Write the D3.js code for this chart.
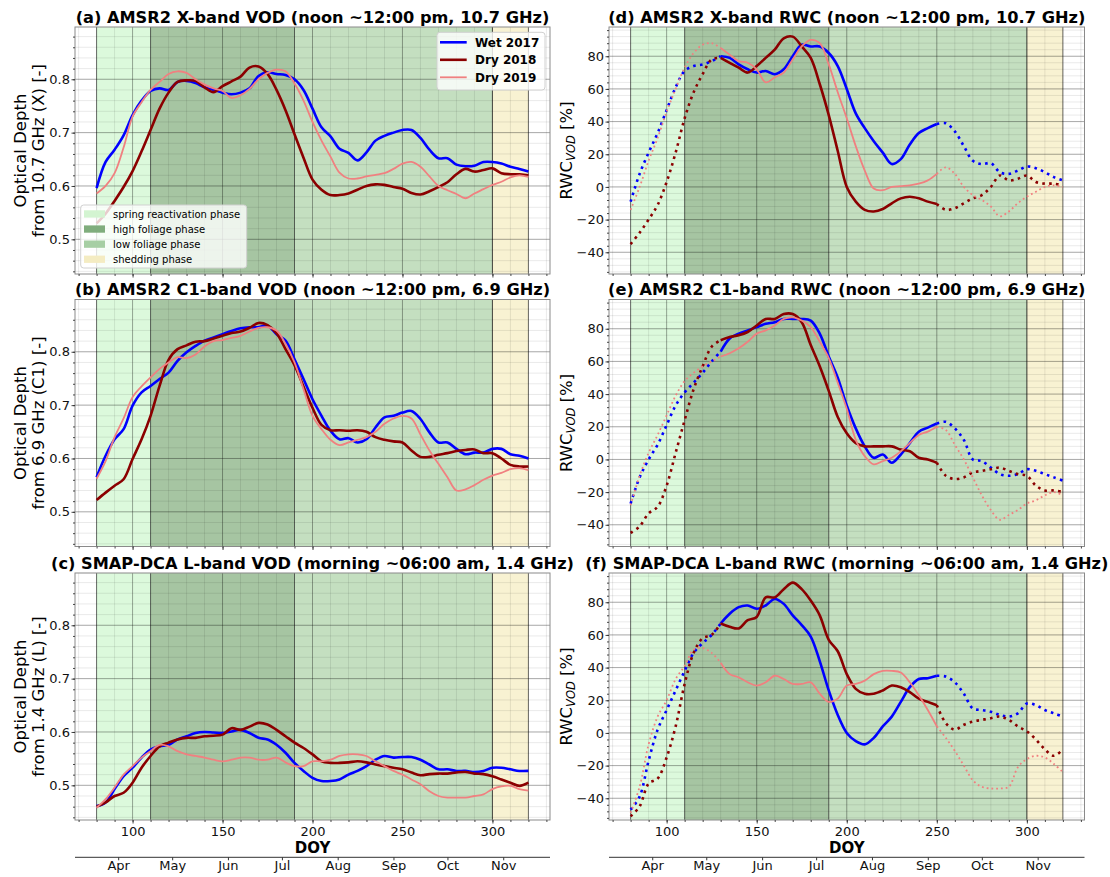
<!DOCTYPE html>
<html>
<head>
<meta charset="utf-8">
<title>VOD and RWC, 2017-2019</title>
<script src="https://cdn.jsdelivr.net/npm/d3@7/dist/d3.min.js"></script>
<style>
  body { margin: 0; background: #fff; }
  svg { display: block; font-family: 'DejaVu Sans', sans-serif; }
</style>
</head>
<body>
<svg id="fig" width="1110" height="877"></svg>
<script>
// day of year, one value every 5 days
const doy = d3.range(80, 321, 5);

// (a) AMSR2 X-band VOD [-]
const vodXWet2017 = [0.596,0.645,0.668,0.695,0.733,0.760,0.778,0.783,0.780,0.795,0.797,0.793,0.785,0.780,0.775,0.772,0.775,0.783,0.806,0.813,0.810,0.808,0.800,0.780,0.745,0.710,0.693,0.670,0.662,0.648,0.663,0.685,0.694,0.700,0.705,0.705,0.690,0.668,0.652,0.652,0.640,0.637,0.638,0.645,0.645,0.642,0.636,0.632,0.627];
const vodXDry2018 = [0.530,0.548,0.572,0.598,0.628,0.665,0.705,0.745,0.775,0.795,0.798,0.797,0.785,0.776,0.787,0.796,0.805,0.822,0.824,0.810,0.780,0.742,0.697,0.653,0.612,0.593,0.583,0.583,0.586,0.593,0.600,0.603,0.602,0.598,0.595,0.587,0.584,0.590,0.598,0.607,0.622,0.632,0.627,0.630,0.633,0.624,0.622,0.622,0.620];
const vodXDry2019 = [0.586,0.600,0.624,0.672,0.730,0.757,0.780,0.795,0.810,0.815,0.812,0.800,0.790,0.783,0.778,0.765,0.770,0.782,0.800,0.812,0.818,0.815,0.792,0.760,0.720,0.685,0.655,0.625,0.614,0.614,0.618,0.621,0.624,0.632,0.642,0.645,0.636,0.618,0.600,0.592,0.585,0.577,0.586,0.594,0.602,0.608,0.616,0.620,0.617];

// (b) AMSR2 C1-band VOD [-]
const vodCWet2017 = [0.565,0.605,0.636,0.655,0.699,0.724,0.736,0.749,0.761,0.783,0.799,0.811,0.821,0.827,0.833,0.839,0.844,0.846,0.846,0.849,0.833,0.821,0.786,0.749,0.711,0.680,0.652,0.636,0.638,0.630,0.636,0.658,0.677,0.680,0.686,0.689,0.674,0.649,0.630,0.630,0.618,0.608,0.611,0.611,0.618,0.618,0.608,0.605,0.600];
const vodCDry2018 = [0.522,0.536,0.549,0.561,0.599,0.636,0.680,0.736,0.785,0.805,0.812,0.819,0.820,0.825,0.830,0.835,0.838,0.845,0.854,0.850,0.835,0.805,0.775,0.735,0.695,0.663,0.653,0.653,0.652,0.653,0.650,0.640,0.635,0.632,0.630,0.615,0.603,0.603,0.607,0.610,0.614,0.616,0.617,0.610,0.610,0.600,0.588,0.585,0.585];
const vodCDry2019 = [0.562,0.595,0.640,0.675,0.715,0.735,0.752,0.768,0.780,0.790,0.788,0.795,0.810,0.820,0.822,0.826,0.830,0.838,0.845,0.846,0.840,0.815,0.780,0.730,0.680,0.655,0.635,0.625,0.630,0.635,0.640,0.650,0.665,0.675,0.680,0.675,0.645,0.615,0.590,0.565,0.540,0.542,0.550,0.560,0.568,0.573,0.580,0.582,0.578];

// (c) SMAP-DCA L-band VOD [-]
const vodLWet2017 = [0.461,0.468,0.493,0.517,0.533,0.552,0.567,0.573,0.576,0.586,0.592,0.598,0.600,0.599,0.598,0.601,0.604,0.598,0.589,0.586,0.576,0.561,0.542,0.527,0.514,0.508,0.508,0.511,0.520,0.527,0.536,0.548,0.555,0.552,0.553,0.553,0.548,0.539,0.530,0.530,0.527,0.527,0.525,0.527,0.533,0.533,0.530,0.527,0.527];
const vodLDry2018 = [0.460,0.468,0.480,0.486,0.505,0.533,0.555,0.573,0.580,0.586,0.589,0.589,0.592,0.593,0.595,0.607,0.604,0.610,0.617,0.614,0.604,0.592,0.580,0.570,0.558,0.545,0.542,0.542,0.543,0.545,0.543,0.539,0.536,0.533,0.530,0.524,0.519,0.521,0.522,0.522,0.524,0.525,0.522,0.521,0.517,0.511,0.505,0.499,0.505];
const vodLDry2019 = [0.458,0.474,0.496,0.520,0.536,0.552,0.564,0.576,0.573,0.564,0.558,0.555,0.552,0.548,0.545,0.548,0.552,0.552,0.548,0.548,0.552,0.543,0.536,0.536,0.545,0.545,0.548,0.555,0.558,0.558,0.555,0.545,0.536,0.527,0.520,0.511,0.502,0.489,0.480,0.477,0.477,0.477,0.480,0.483,0.493,0.498,0.499,0.493,0.490];

// (d) AMSR2 X-band RWC [%]
const rwcXWet2017 = [-9,8,21,33,47,61,71,74,75,77,80,79,75,72,70,71,69,72,80,87,86,86,82,74,60,45,36,28,21,14,17,26,33,36,38.5,39,34,25,16,14,14.5,9,8,10,12.5,11.5,9,6,4];
const rwcXDry2018 = [-35,-28,-20,-11,3,21,42,58,69,78,79,76,73,70,74,79,84,91,92,86,79,63,44,22,0,-9,-14,-15,-13.5,-10,-7,-6,-7,-9,-10.5,-14,-13,-10,-7,-5,0,7,4,5,7,3,2,2,1];
const rwcXDry2019 = [-14,0,16,30,46,60,73,82,87,88,85,81,77,76,72,64,67,70,78,86,90,88,75,58,42,25,10,-1,-2,0,0.5,1,2,4,8,12,8,0,-5,-8,-12,-18,-15,-10,-6,-3,0,1,0];

// (e) AMSR2 C1-band RWC [%]
const rwcCWet2017 = [-27,-11,0,9,21,33,41,47,53,60,66,74,77,79,81,83,84,86,86,86,85,77,63,50,33,19,8,1,3,-2,3,10,17,19.5,22,23,19,12,0,-1,-5,-9,-10,-9,-6,-7,-9,-11,-13];
const rwcCDry2018 = [-45,-41,-33,-29,-16,4,24,43,57,69,73,75,76,78,82,86,86,89,89,84,70,57,42,26,16,10,8,8,8,8,6,5,1,0,-2,-10,-12,-11,-8,-7,-6,-5,-7,-9,-10,-16,-19,-19,-20];
const rwcCDry2019 = [-28,-10,4,15,27,39,48,53,57,60,63,65,68,72,77,79,82,86,87,85,81,72,62,47,31,12,2,-3,-1,1,5,10,15,17,20,18,9,0,-11,-22,-31,-37,-34,-31,-27,-25,-22,-20,-22];

// (f) SMAP-DCA L-band RWC [%]
const rwcLWet2017 = [-47,-39,-17,2,14,26,38,49,55,60,67,73,77,78,76,78,82,79,72,66,59,44,26,11,0,-5,-7,-3,4,10,19,28,33,33.5,35,34.5,31,24,15,14,13,11,10,12,18,17,14,12,10];
const rwcLDry2018 = [-51,-45,-31,-28,-15,4,30,49,58,60,67,65,64,69,71,83,83,88,92,88,81,72,57,50,36,27,24,24,26,29,28,25,21,19,17,6,2,5,7,8,9,10,8,4,1,-4,-10,-14,-10];
const rwcLDry2019 = [-49,-33,-7,10,20,33,41,51,52,49,43,36,34,31,29,31,35,33,30,30,31,24,19,21,29,30,32,36,38,38,37,31,23,14,4,-3,-11,-20,-29,-33,-34,-34,-33,-21,-16,-14,-15,-19,-24];

const seriesNames = ['Wet 2017', 'Dry 2018', 'Dry 2019'];
const phaseNames = ['spring reactivation phase', 'high foliage phase', 'low foliage phase', 'shedding phase'];
const phaseStart = [80, 110, 190, 300];
const phaseEnd = [110, 190, 300, 320];
const monthNames = ['Apr', 'May', 'Jun', 'Jul', 'Aug', 'Sep', 'Oct', 'Nov'];
const monthDoy = [92, 122, 153, 183, 214, 245, 275, 306];
const doyTicks = [100, 150, 200, 250, 300];
const vodTicks = [0.5, 0.6, 0.7, 0.8];
const rwcTicks = [-40, -20, 0, 20, 40, 60, 80];
// RWC is drawn solid only inside this window, dotted outside
const rwcSolidFrom = 130;
const rwcSolidTo = 250;

// look
const seriesColors = ['#0000ff', '#8b0000', '#f08080'];
const seriesWidths = [2.6, 2.6, 1.8];
const phaseFill = ['#dcf9dc', '#a6c5a2', '#c4dfc0', '#f8f2d2'];
const phaseSwatch = ['#d3f4d1', '#80ad7d', '#a7cfa4', '#f4ecc2'];

const panels = [
  {title: '(a) AMSR2 X-band VOD (noon ~12:00 pm, 10.7 GHz)', col: 0, row: 0, kind: 'vod', band: '10.7 GHz (X)', data: [vodXWet2017, vodXDry2018, vodXDry2019]},
  {title: '(b) AMSR2 C1-band VOD (noon ~12:00 pm, 6.9 GHz)', col: 0, row: 1, kind: 'vod', band: '6.9 GHz (C1)', data: [vodCWet2017, vodCDry2018, vodCDry2019]},
  {title: '(c) SMAP-DCA L-band VOD (morning ~06:00 am, 1.4 GHz)', col: 0, row: 2, kind: 'vod', band: '1.4 GHz (L)', data: [vodLWet2017, vodLDry2018, vodLDry2019]},
  {title: '(d) AMSR2 X-band RWC (noon ~12:00 pm, 10.7 GHz)', col: 1, row: 0, kind: 'rwc', data: [rwcXWet2017, rwcXDry2018, rwcXDry2019]},
  {title: '(e) AMSR2 C1-band RWC (noon ~12:00 pm, 6.9 GHz)', col: 1, row: 1, kind: 'rwc', data: [rwcCWet2017, rwcCDry2018, rwcCDry2019]},
  {title: '(f) SMAP-DCA L-band RWC (morning ~06:00 am, 1.4 GHz)', col: 1, row: 2, kind: 'rwc', data: [rwcLWet2017, rwcLDry2018, rwcLDry2019]}
];

const svg = d3.select('#fig');
const colX = [[75, 550], [609, 1084.5]];
const rowY = [[27, 274], [299.5, 546.5], [573, 820]];
const doyDomain = [68, 332];
const vodDomain = [0.435, 0.898];
const rwcDomain = [-53.3, 97.9];

function styleAxis(sel) {
  sel.select('.domain').remove();
  sel.selectAll('line').attr('stroke', '#333').attr('stroke-width', 0.9);
  sel.selectAll('text').attr('fill', '#111').style('font-size', '13px')
    .style('font-family', "'DejaVu Sans', sans-serif");
}

function drawPanel(p, i) {
  const [x0, x1] = colX[p.col];
  const [y0, y1] = rowY[p.row];
  const isVod = p.kind === 'vod';
  const x = d3.scaleLinear().domain(doyDomain).range([x0, x1]);
  const y = d3.scaleLinear().domain(isVod ? vodDomain : rwcDomain).range([y1, y0]);
  const g = svg.append('g');

  g.append('clipPath').attr('id', 'clip' + i).append('rect')
    .attr('x', x0).attr('y', y0).attr('width', x1 - x0).attr('height', y1 - y0);
  const plot = g.append('g').attr('clip-path', `url(#clip${i})`);

  plot.append('rect')
    .attr('x', x0).attr('y', y0).attr('width', x1 - x0).attr('height', y1 - y0)
    .attr('fill', '#fff');

  plot.selectAll('rect.phase').data(phaseStart).join('rect')
    .attr('class', 'phase')
    .attr('x', d => x(d))
    .attr('width', (d, k) => x(phaseEnd[k]) - x(d))
    .attr('y', y0).attr('height', y1 - y0)
    .attr('fill', (d, k) => phaseFill[k]);

  // grid, minor then major
  const minorX = d3.range(70, 331, 10);
  const minorY = isVod ? d3.range(22, 45).map(k => k / 50) : d3.range(-52, 97, 4);
  const majorY = isVod ? vodTicks : rwcTicks;

  plot.selectAll('line.gmx').data(minorX).join('line')
    .attr('x1', d => x(d)).attr('x2', d => x(d)).attr('y1', y0).attr('y2', y1)
    .attr('stroke', 'rgba(0,0,0,0.11)').attr('stroke-width', 0.8);
  plot.selectAll('line.gmy').data(minorY).join('line')
    .attr('x1', x0).attr('x2', x1).attr('y1', d => y(d)).attr('y2', d => y(d))
    .attr('stroke', 'rgba(0,0,0,0.11)').attr('stroke-width', 0.8);
  plot.selectAll('line.gx').data(doyTicks).join('line')
    .attr('x1', d => x(d)).attr('x2', d => x(d)).attr('y1', y0).attr('y2', y1)
    .attr('stroke', 'rgba(0,0,0,0.28)').attr('stroke-width', 1);
  plot.selectAll('line.gy').data(majorY).join('line')
    .attr('x1', x0).attr('x2', x1).attr('y1', d => y(d)).attr('y2', d => y(d))
    .attr('stroke', 'rgba(0,0,0,0.28)').attr('stroke-width', 1);

  // phase borders
  plot.selectAll('line.edge').data([80, 110, 190, 300, 320]).join('line')
    .attr('x1', d => x(d)).attr('x2', d => x(d)).attr('y1', y0).attr('y2', y1)
    .attr('stroke', 'rgba(0,0,0,0.55)').attr('stroke-width', 1);

  const line = d3.line()
    .x(d => x(d[0])).y(d => y(d[1]))
    .curve(d3.curveCatmullRom.alpha(0.5));

  p.data.forEach((vals, s) => {
    const pts = doy.map((d, k) => [d, vals[k]]);
    const parts = isVod ? [[pts, false]] : [
      [pts.filter(q => q[0] <= rwcSolidFrom), true],
      [pts.filter(q => q[0] >= rwcSolidFrom && q[0] <= rwcSolidTo), false],
      [pts.filter(q => q[0] >= rwcSolidTo), true]
    ];
    parts.forEach(([seg, dotted]) => {
      const w = seriesWidths[s];
      plot.append('path').datum(seg)
        .attr('d', line)
        .attr('fill', 'none')
        .attr('stroke', seriesColors[s])
        .attr('stroke-width', w)
        .attr('stroke-linejoin', 'round')
        .attr('stroke-dasharray', dotted ? `${w},${(w * 1.65).toFixed(2)}` : null);
    });
  });

  // frame
  g.append('rect')
    .attr('x', x0).attr('y', y0).attr('width', x1 - x0).attr('height', y1 - y0)
    .attr('fill', 'none').attr('stroke', '#8a8a8a').attr('stroke-width', 1);

  // y axis
  g.append('g').attr('transform', `translate(${x0},0)`)
    .call(d3.axisLeft(y).tickValues(minorY).tickSize(2).tickFormat(''))
    .call(styleAxis);
  g.append('g').attr('transform', `translate(${x0},0)`)
    .call(d3.axisLeft(y).tickValues(majorY).tickSize(3.5).tickPadding(1.5)
      .tickFormat(isVod ? d3.format('.1f') : d3.format('d')))
    .call(styleAxis);

  // x axis
  const last = p.row === 2;
  g.append('g').attr('transform', `translate(0,${y1})`)
    .call(d3.axisBottom(x).tickValues(minorX).tickSize(2).tickFormat(''))
    .call(styleAxis);
  g.append('g').attr('transform', `translate(0,${y1})`)
    .call(d3.axisBottom(x).tickValues(doyTicks).tickSize(3.5).tickPadding(3)
      .tickFormat(last ? d3.format('d') : ''))
    .call(styleAxis);

  // title
  g.append('text')
    .attr('x', (x0 + x1) / 2).attr('y', y0 - 4.5)
    .attr('text-anchor', 'middle')
    .style('font-size', '16.2px').style('font-weight', 'bold')
    .text(p.title);

  // y label
  const yc = (y0 + y1) / 2;
  if (isVod) {
    ['Optical Depth', 'from ' + p.band + ' [-]'].forEach((t, k) => {
      g.append('text')
        .attr('transform', `translate(${25.6 + k * 18.8},${yc}) rotate(-90)`)
        .attr('text-anchor', 'middle')
        .style('font-size', '16.5px')
        .text(t);
    });
  } else {
    const lab = g.append('text')
      .attr('transform', `translate(${571.6},${yc}) rotate(-90)`)
      .attr('text-anchor', 'middle')
      .style('font-size', '16.5px');
    lab.append('tspan').text('RWC');
    lab.append('tspan').attr('dy', 3.5).style('font-size', '11.5px').style('font-style', 'italic').text('VOD');
    lab.append('tspan').attr('dy', -3.5).text(' [%]');
  }

  if (last) {
    g.append('text')
      .attr('x', (x0 + x1) / 2).attr('y', 852.5)
      .attr('text-anchor', 'middle')
      .style('font-size', '15px').style('font-weight', 'bold')
      .text('DOY');

    // calendar month axis below
    const monthAxis = g.append('g').attr('transform', 'translate(0,857.3)')
      .call(d3.axisBottom(x).tickValues(monthDoy).tickSize(3).tickPadding(0.5)
        .tickFormat((d, k) => monthNames[k]));
    monthAxis.select('.domain').remove();
    monthAxis.selectAll('line').attr('stroke', '#333');
    monthAxis.selectAll('text').attr('fill', '#111').style('font-size', '13px')
      .style('font-family', "'DejaVu Sans', sans-serif");
    g.append('line')
      .attr('x1', x0).attr('x2', x1).attr('y1', 857.3).attr('y2', 857.3)
      .attr('stroke', '#333').attr('stroke-width', 1);
  }

  if (i === 0) {
    // year legend
    const lg = g.append('g');
    lg.append('rect')
      .attr('x', 437).attr('y', 32.3).attr('width', 108).attr('height', 57.7)
      .attr('rx', 3).attr('fill', 'rgba(255,255,255,0.8)').attr('stroke', '#d0d0d0');
    seriesNames.forEach((name, s) => {
      const yy = 42.3 + s * 17.5;
      lg.append('line').attr('x1', 440).attr('x2', 466.7).attr('y1', yy).attr('y2', yy)
        .attr('stroke', seriesColors[s]).attr('stroke-width', seriesWidths[s]);
      lg.append('text').attr('x', 475).attr('y', yy).attr('dy', '0.36em')
        .style('font-size', '12px').style('font-weight', 'bold').text(name);
    });

    // phase legend
    const pg = g.append('g');
    pg.append('rect')
      .attr('x', 80.7).attr('y', 205).attr('width', 166).attr('height', 63)
      .attr('rx', 3).attr('fill', 'rgba(255,255,255,0.8)').attr('stroke', '#d0d0d0');
    phaseNames.forEach((name, k) => {
      const yy = 214 + k * 15.1;
      pg.append('rect').attr('x', 84).attr('y', yy - 3.7).attr('width', 21).attr('height', 7.3)
        .attr('fill', phaseSwatch[k]);
      pg.append('text').attr('x', 113).attr('y', yy).attr('dy', '0.36em')
        .style('font-size', '10px').text(name);
    });
  }
}

panels.forEach(drawPanel);
</script>
</body>
</html>
